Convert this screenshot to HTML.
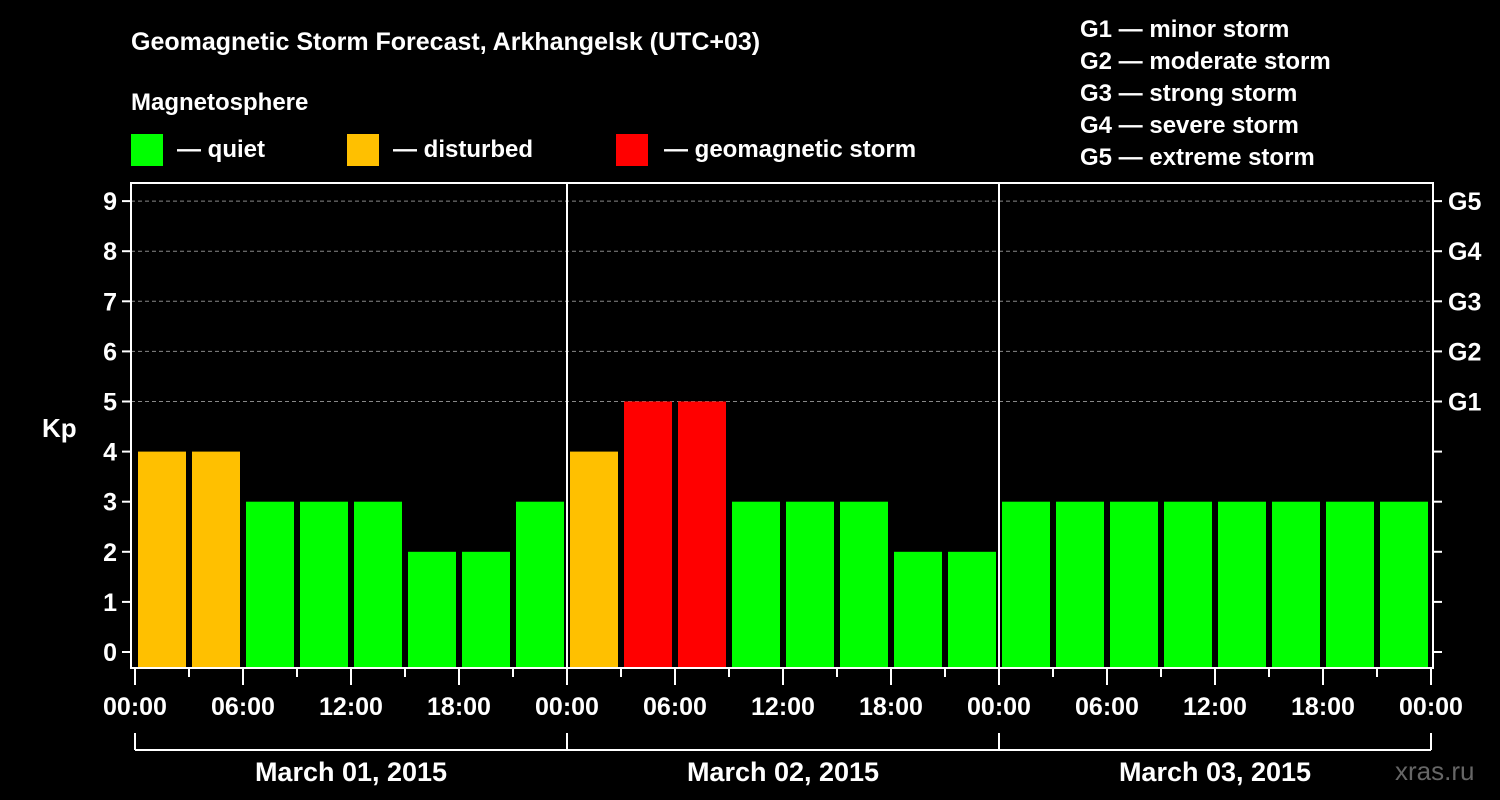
<!DOCTYPE html>
<html><head><meta charset="utf-8"><style>
body{margin:0;background:#000;width:1500px;height:800px;overflow:hidden}
svg{display:block;font-family:"Liberation Sans",sans-serif;font-weight:bold}
</style></head><body>
<svg id="c" width="1500" height="800">
<rect width="1500" height="800" fill="#000"/>
<text x="131" y="50" fill="#fff" font-size="25">Geomagnetic Storm Forecast, Arkhangelsk (UTC+03)</text>
<text x="131" y="110" fill="#fff" font-size="24">Magnetosphere</text>
<g><rect x="131" y="134" width="32" height="32" fill="#00ff00"/><text x="177" y="157" fill="#fff" font-size="24">— quiet</text></g>
<g><rect x="347" y="134" width="32" height="32" fill="#ffc000"/><text x="393" y="157" fill="#fff" font-size="24">— disturbed</text></g>
<g><rect x="616" y="134" width="32" height="32" fill="#ff0000"/><text x="664" y="157" fill="#fff" font-size="24">— geomagnetic storm</text></g>
<g fill="#fff" font-size="24">
<text x="1080" y="37">G1 — minor storm</text>
<text x="1080" y="69">G2 — moderate storm</text>
<text x="1080" y="101">G3 — strong storm</text>
<text x="1080" y="133">G4 — severe storm</text>
<text x="1080" y="165">G5 — extreme storm</text>
</g>
<text x="42" y="437" fill="#fff" font-size="26">Kp</text>
<text x="1395" y="780" fill="#666" font-size="26" font-weight="normal">xras.ru</text>
<g id="plot"></g>
</svg>
<script>
const kpValues=[4,4,3,3,3,2,2,3, 4,5,5,3,3,3,2,2, 3,3,3,3,3,3,3,3];
const dayLabels=["March 01, 2015","March 02, 2015","March 03, 2015"];
const timeLabels=["00:00","06:00","12:00","18:00"];
const gLabels=["G1","G2","G3","G4","G5"];
const ns="http://www.w3.org/2000/svg";
const P=document.getElementById('plot');
const X0=135,STEP=54,L=131,R=1433,T=183,B=668;
const y=v=>652-50.1*v;
const x=i=>X0+STEP*i;
function mk(t,a,p){const e=document.createElementNS(ns,t);for(const k in a)e.setAttribute(k,a[k]);(p||P).appendChild(e);return e;}
function color(v){return v>=5?'#ff0000':v>=4?'#ffc000':'#00ff00';}
for(let k=5;k<=9;k++){const g=mk('line',{x1:L,x2:R,y1:y(k),y2:y(k),stroke:'#888','stroke-dasharray':'4,3'});

}
kpValues.forEach((v,i)=>{const r=mk('rect',{x:x(i)+3,y:y(v),width:48,height:B-y(v),fill:color(v)});

});
mk('rect',{x:L,y:T,width:R-L,height:B-T,fill:'none',stroke:'#fff','stroke-width':2});
for(let d=1;d<3;d++){const l=mk('line',{x1:x(d*8),x2:x(d*8),y1:T,y2:B,stroke:'#fff','stroke-width':2});

}
for(let k=0;k<=9;k++){
mk('line',{x1:L-9,x2:L,y1:y(k),y2:y(k),stroke:'#fff','stroke-width':2});
mk('line',{x1:R,x2:R+9,y1:y(k),y2:y(k),stroke:'#fff','stroke-width':2});
const t=mk('text',{x:L-14,y:y(k)+9,'text-anchor':'end',fill:'#fff','font-size':25});t.textContent=k;

}
gLabels.forEach((g,i)=>{const t=mk('text',{x:1448,y:y(i+5)+9,fill:'#fff','font-size':25});t.textContent=g;

});
for(let i=0;i<=24;i++){const major=i%2==0;
mk('line',{x1:x(i),x2:x(i),y1:B,y2:B+(major?17:9),stroke:'#fff','stroke-width':2});
if(major){const t=mk('text',{x:x(i),y:715,'text-anchor':'middle',fill:'#fff','font-size':25});t.textContent=timeLabels[(i/2)%4];

}}
mk('line',{x1:x(0),x2:x(24),y1:750,y2:750,stroke:'#fff','stroke-width':2});
for(let d=0;d<=3;d++)mk('line',{x1:x(d*8),x2:x(d*8),y1:733,y2:750,stroke:'#fff','stroke-width':2});
dayLabels.forEach((s,d)=>{const t=mk('text',{x:x(d*8+4),y:781,'text-anchor':'middle',fill:'#fff','font-size':27});t.textContent=s;

});
</script>
</body></html>
